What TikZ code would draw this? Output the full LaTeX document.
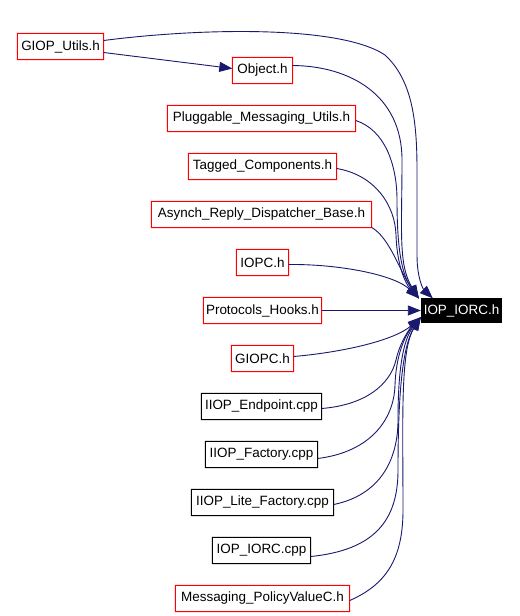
\documentclass[tikz,border=0pt]{standalone}
\usepackage{fontspec}
\setmainfont{Liberation Sans}
\usetikzlibrary{arrows.meta}
\definecolor{edgeblue}{HTML}{191970}
\definecolor{boxred}{HTML}{FF0000}
\tikzset{
  filebox/.style={inner sep=0pt, minimum height=26bp, font=\fontsize{13.5}{15}\selectfont},
  redbox/.style={filebox},
  blackbox/.style={filebox},
  tgtbox/.style={filebox, fill=black, text=white},
  frameshape/.style={fill=#1, even odd rule},
  dep/.style={draw=edgeblue, line width=0.9bp, -{Triangle[length=13bp,width=10bp]}, color=edgeblue},
}
\newcommand\myfileframe[2]{%
  \fill[frameshape=#2] ([shift={(-0.5,-0.5)}]#1.north west) rectangle ([shift={(0.5,0.5)}]#1.south east)
    ([shift={(0.5,0.5)}]#1.north west) rectangle ([shift={(-0.5,-0.5)}]#1.south east);}
\begin{document}
\begin{tikzpicture}[x=1bp,y=-1bp]
\useasboundingbox[fill=white] (0,0) rectangle (520,616);
% nodes
\node[redbox, minimum width=86bp] (giopu) at (60.5,46.5) {GIOP\_Utils.h};
\node[redbox, minimum width=60bp] (obj) at (262.5,70.5) {Object.h};
\node[redbox, minimum width=188bp] (plug) at (261.5,118.5) {Pluggable\_Messaging\_Utils.h};
\node[redbox, minimum width=148bp] (tag) at (262.5,166.5) {Tagged\_Components.h};
\node[redbox, minimum width=220bp] (asyn) at (261.5,214.5) {Asynch\_Reply\_Dispatcher\_Base.h};
\node[redbox, minimum width=52bp] (iopc) at (262.5,262.5) {IOPC.h};
\node[redbox, minimum width=118bp] (proto) at (262.5,310.5) {Protocols\_Hooks.h};
\node[redbox, minimum width=62bp] (giopc) at (262.5,358.5) {GIOPC.h};
\node[blackbox, minimum width=120bp] (iiope) at (261.5,406.5) {IIOP\_Endpoint.cpp};
\node[blackbox, minimum width=112bp] (iiopf) at (261.5,454.5) {IIOP\_Factory.cpp};
\node[blackbox, minimum width=142bp] (iiopl) at (262.5,502.5) {IIOP\_Lite\_Factory.cpp};
\node[blackbox, minimum width=98bp] (iorcc) at (261.5,550.5) {IOP\_IORC.cpp};
\node[redbox, minimum width=174bp] (msg) at (262.5,598.5) {Messaging\_PolicyValueC.h};
\node[tgtbox, minimum width=81bp, minimum height=25bp] (tgt) at (461.5,310.5) {IOP\_IORC.h};
% frames
\myfileframe{giopu}{boxred}
\myfileframe{obj}{boxred}
\myfileframe{plug}{boxred}
\myfileframe{tag}{boxred}
\myfileframe{asyn}{boxred}
\myfileframe{iopc}{boxred}
\myfileframe{proto}{boxred}
\myfileframe{giopc}{boxred}
\myfileframe{iiope}{black}
\myfileframe{iiopf}{black}
\myfileframe{iiopl}{black}
\myfileframe{iorcc}{black}
\myfileframe{msg}{boxred}
% end points on the target
\coordinate (tipA) at ([xshift=-2bp,yshift=-0.5bp]tgt.north west);
\coordinate (tipG) at ([xshift=12bp,yshift=-0.5bp]tgt.north west);
\coordinate (tipB) at ([xshift=0bp,yshift=6bp]tgt.south west);
% edges
\draw[dep] ([yshift=6bp]giopu.east) .. controls (200,28) and (340,25) .. (385,55)
  .. controls (412,80) and (417,120) .. (417,170) -- (417,255)
  .. controls (417,280) and (424,290) .. (tipG);
\draw[dep] ([yshift=-6bp]giopu.east) -- ([yshift=2bp]obj.west);
\draw[dep] ([yshift=5bp]obj.east) .. controls (350,66) and (402,95) .. (402,160)
  .. controls (402,230) and (398,265) .. (tipA);
\draw[dep] ([yshift=-2bp]plug.east) .. controls (385,130) and (397,165) .. (397,200)
  .. controls (397,250) and (402,275) .. (tipA);
\draw[dep] ([yshift=-2bp]tag.east) .. controls (375,175) and (395,205) .. (396,235)
  .. controls (397,265) and (405,283) .. (tipA);
\draw[dep] ([yshift=-13bp]asyn.east) .. controls (390,238) and (400,272) .. (tipA);
\draw[dep] ([yshift=-2bp]iopc.east) .. controls (340,264) and (395,275) .. (tipA);
\draw[dep] (proto.east) -- (tgt.west);
\draw[dep] ([yshift=2bp]giopc.east) .. controls (345,352) and (395,340) .. (tipB);
\draw[dep] ([yshift=-2bp]iiope.east) .. controls (365,405) and (390,385) .. (396,360)
  .. controls (400,342) and (410,328) .. (tipB);
\draw[dep] ([yshift=-4bp]iiopf.east) .. controls (370,452) and (394,420) .. (395,385)
  .. controls (396,355) and (405,335) .. (tipB);
\draw[dep] ([yshift=-2bp]iiopl.east) .. controls (380,495) and (398,460) .. (398,420)
  .. controls (398,370) and (403,340) .. (tipB);
\draw[dep] ([yshift=-6bp]iorcc.east) .. controls (375,550) and (398,520) .. (398,470)
  .. controls (398,390) and (403,345) .. (tipB);
\draw[dep] ([yshift=-2bp]msg.east) .. controls (385,585) and (403,560) .. (403,510)
  .. controls (403,420) and (400,350) .. (tipB);
\end{tikzpicture}
\end{document}
